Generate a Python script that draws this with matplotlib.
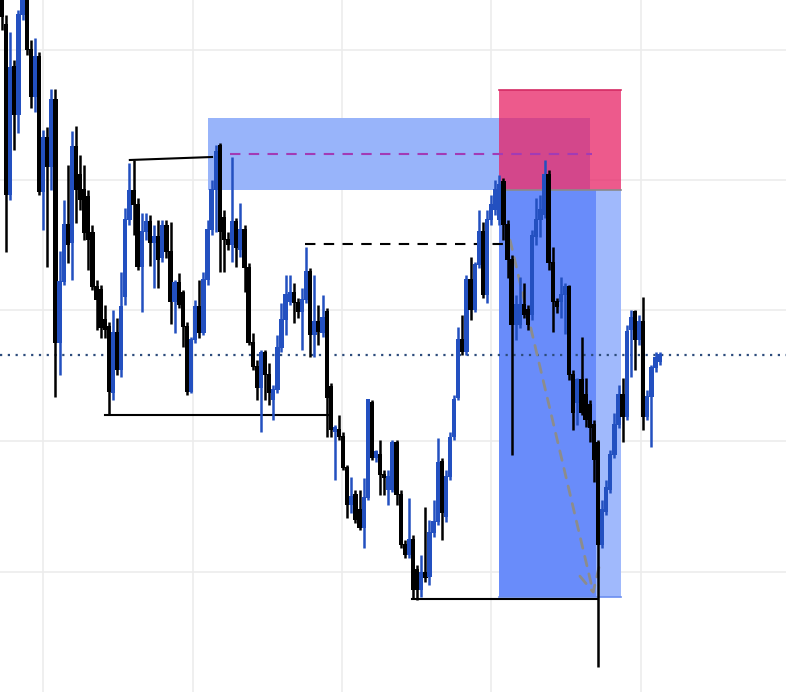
import numpy as np
import matplotlib
matplotlib.use("Agg")
import matplotlib.pyplot as plt
from matplotlib.patches import Rectangle

# OHLC (price units, one value per bar)
opens = [710, 675, 505, 633, 585, 685, 705, 650, 603, 643, 508, 562, 533, 600, 357, 418, 475, 457, 553, 525,
         510, 503, 467, 413, 410, 380, 373, 307, 367, 330, 403, 480, 509, 495, 433, 468, 478, 457, 463, 442,
         474, 448, 398, 417, 407, 373, 308, 360, 393, 367, 420, 470, 510, 554, 482, 460, 455, 478, 450, 470,
         432, 357, 333, 312, 347, 325, 300, 310, 352, 380, 398, 407, 397, 388, 400, 428, 365, 378, 367, 388,
         313, 268, 270, 263, 232, 195, 205, 190, 172, 202, 297, 242, 245, 225, 210, 210, 257, 205, 155, 145,
         160, 130, 110, 127, 123, 167, 178, 238, 183, 223, 263, 302, 360, 348, 420, 390, 435, 468, 405, 480,
         490, 480, 518, 475, 440, 375, 375, 395, 390, 385, 463, 480, 485, 525, 437, 398, 398, 405, 413, 325,
         297, 320, 305, 295, 275, 257, 155, 188, 210, 245, 275, 305, 283, 370, 388, 360, 378, 283, 303, 332,
         338]
highs = [720, 685, 668, 640, 690, 715, 715, 660, 662, 648, 570, 573, 611, 611, 449, 500, 535, 569, 574, 545,
         535, 510, 475, 420, 415, 395, 378, 390, 382, 428, 492, 537, 540, 502, 487, 487, 485, 475, 480, 480,
         480, 478, 420, 427, 410, 378, 363, 400, 420, 428, 480, 520, 555, 557, 490, 468, 543, 482, 497, 475,
         437, 367, 340, 350, 350, 337, 315, 365, 397, 425, 425, 417, 402, 412, 453, 432, 425, 395, 405, 392,
         317, 275, 285, 268, 235, 223, 210, 210, 222, 300, 300, 250, 260, 230, 230, 260, 260, 210, 160, 202,
         165, 135, 145, 193, 180, 200, 262, 242, 230, 268, 305, 373, 385, 425, 443, 438, 490, 478, 490, 505,
         520, 525, 522, 480, 445, 405, 423, 417, 395, 470, 502, 505, 540, 530, 453, 402, 423, 417, 415, 330,
         322, 363, 322, 300, 280, 260, 200, 220, 250, 287, 315, 322, 375, 390, 390, 385, 403, 310, 335, 348,
         348]
lows = [670, 448, 500, 550, 567, 680, 645, 592, 588, 505, 470, 433, 510, 303, 325, 415, 437, 420, 477, 490,
        460, 430, 410, 370, 362, 362, 285, 300, 325, 323, 395, 475, 465, 430, 388, 460, 434, 412, 412, 438,
        442, 376, 367, 392, 353, 305, 307, 357, 362, 365, 415, 465, 468, 428, 428, 450, 438, 433, 443, 408,
        355, 330, 300, 268, 300, 295, 280, 307, 348, 365, 395, 377, 382, 350, 397, 343, 343, 355, 363, 263,
        263, 220, 260, 230, 182, 187, 177, 170, 152, 200, 240, 238, 205, 205, 195, 208, 195, 152, 142, 142,
        102, 100, 103, 118, 115, 163, 175, 160, 178, 220, 260, 300, 345, 345, 380, 388, 432, 402, 397, 475,
        485, 475, 460, 422, 245, 360, 372, 382, 370, 380, 455, 463, 482, 430, 368, 387, 382, 366, 320, 270,
        275, 285, 273, 258, 218, 33, 152, 185, 207, 242, 272, 258, 280, 323, 330, 355, 270, 280, 253, 328,
        335]
closes = [683, 505, 632, 585, 685, 705, 650, 603, 643, 508, 562, 533, 600, 357, 418, 475, 455, 553, 510, 500,
          467, 460, 413, 400, 372, 370, 308, 367, 330, 393, 480, 509, 495, 433, 468, 478, 457, 463, 440, 474,
          448, 398, 417, 395, 373, 308, 360, 393, 367, 420, 470, 510, 548, 468, 460, 455, 478, 452, 470, 432,
          357, 333, 312, 347, 325, 307, 310, 352, 380, 405, 407, 397, 388, 400, 428, 365, 378, 368, 382, 302,
          270, 272, 263, 232, 195, 203, 180, 172, 202, 300, 242, 248, 225, 222, 223, 257, 205, 155, 145, 160,
          110, 110, 127, 122, 167, 178, 237, 187, 223, 262, 300, 360, 348, 420, 390, 435, 468, 405, 480, 495,
          510, 515, 475, 440, 375, 395, 395, 385, 375, 464, 480, 490, 525, 437, 398, 393, 405, 413, 325, 287,
          320, 287, 280, 272, 240, 155, 190, 212, 245, 275, 305, 283, 368, 382, 360, 378, 283, 303, 332, 342,
          345]

# drawing-tool levels (bar index / price)
zone_bars = (50.1, 143.1)
zone_prices = (510, 582)
short_bars = (120.9, 150.6)
short_filled_to = 144.5
entry, stop, target = 510, 610, 103
mid_level = 546
mid_bars = (55.5, 143.5)
swing_level = 456
swing_bars = (73.7, 123.6)
high_line = ((31.1, 540), (51.1, 543))
low_level = 285
low_bars = (25.0, 79.8)
low2_level = 101
low2_bars = (99.8, 144.8)
path_start = (123.6, 460)
path_end = (144.0, 105)
last_price = 345

grid_x = [9.98, 46.5, 82.7, 119.0, 155.5]
grid_y = [650, 520, 390, 259, 128]

up_color = '#2350c0'
down_color = '#000000'

fig = plt.figure(figsize=(7.86, 6.92), dpi=100)
ax = fig.add_axes([0, 0, 1, 1])
ax.set_xlim(-0.49, 190.75)
ax.set_ylim(8, 700)
for s in ax.spines.values():
    s.set_visible(False)
ax.set_xticks(grid_x)
ax.set_yticks(grid_y)
ax.tick_params(length=0, labelbottom=False, labelleft=False)
ax.grid(True, color='#ececec', lw=1.2)
ax.set_axisbelow(True)

# zones
ax.add_patch(Rectangle((zone_bars[0], zone_prices[0]), zone_bars[1] - zone_bars[0],
                       zone_prices[1] - zone_prices[0], color='#98b4fa', lw=0, zorder=1))
ax.add_patch(Rectangle((short_bars[0], entry), short_bars[1] - short_bars[0], stop - entry,
                       color='#e82366', alpha=0.75, lw=0, zorder=2))
ax.plot(short_bars, [stop, stop], color='#d42a64', lw=1.2, zorder=2)
ax.add_patch(Rectangle((short_bars[0], target), short_bars[1] - short_bars[0], entry - target,
                       color='#a0b9fc', lw=0, zorder=1))
ax.add_patch(Rectangle((short_bars[0], target), short_filled_to - short_bars[0], entry - target,
                       color='#698cfa', lw=0, zorder=1))
ax.plot(short_bars, [entry, entry], color='#8a8a8a', lw=1.2, zorder=2)
ax.plot(short_bars, [target, target], color='#6b8ef0', lw=1.2, zorder=2)

# lines
ax.plot(mid_bars, [mid_level, mid_level], color='#a23bb5', lw=1.5, dashes=(5, 4), zorder=3)
ax.plot(swing_bars, [swing_level, swing_level], color='black', lw=1.5, dashes=(5, 4), zorder=3)
ax.plot([high_line[0][0], high_line[1][0]], [high_line[0][1], high_line[1][1]], color='black', lw=1.5, zorder=3)
ax.plot(low_bars, [low_level, low_level], color='black', lw=1.5, zorder=3)
ax.plot(low2_bars, [low2_level, low2_level], color='black', lw=1.5, zorder=3)
ax.axhline(last_price, color='#2d4c7c', lw=1.6, ls=(0, (1, 2.5)), zorder=3)
ax.annotate('', xy=path_end, xytext=path_start,
            arrowprops=dict(arrowstyle='->,head_length=0.9,head_width=0.45', color='#8c8c8c', lw=2,
                            ls=(0, (3.5, 3)), mutation_scale=18, shrinkA=0, shrinkB=0), zorder=3)

# candles
x = np.arange(len(closes))
o = np.array(opens)
c = np.array(closes)
up = c >= o
colors = np.where(up, up_color, down_color)
ax.vlines(x, lows, highs, colors=colors, lw=1.8, zorder=4)
ax.bar(x, np.abs(c - o) + 1, bottom=np.minimum(o, c), width=1.05, color=colors, lw=0, zorder=5)

fig.savefig('out.png', dpi=100)
